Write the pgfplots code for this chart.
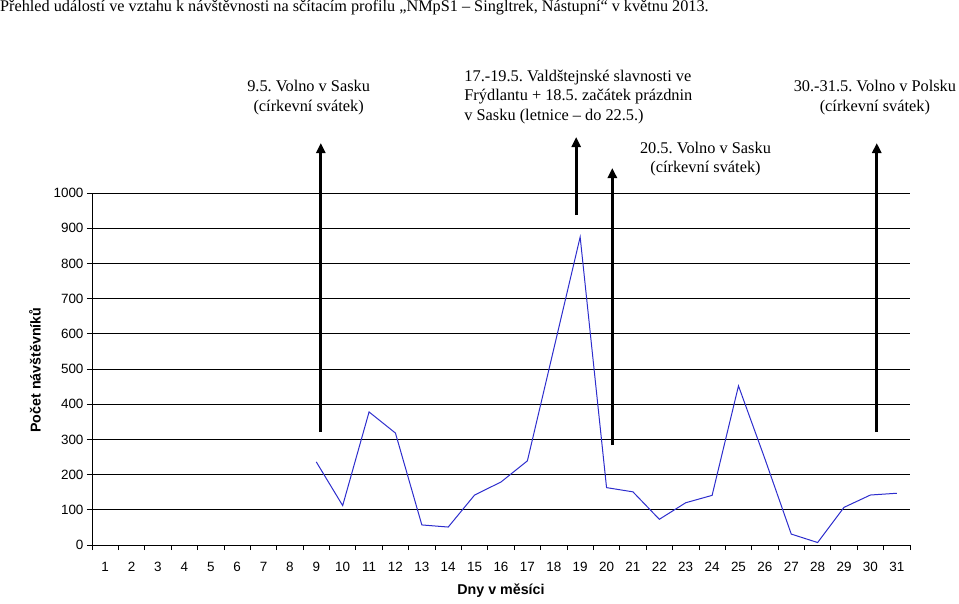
\documentclass[border=0pt]{standalone}
\usepackage{fontspec}
\setmainfont{Liberation Serif}
\newfontfamily\arial{Liberation Sans}
\usepackage{pgfplots}
\pgfplotsset{compat=1.18}
\usetikzlibrary{arrows.meta}
\definecolor{lineblue}{RGB}{45,45,205}
\frenchspacing
\begin{document}
\begin{tikzpicture}
\useasboundingbox (-92bp,-59bp) rectangle (867bp,545bp);
\begin{axis}[
  scale only axis, width=818bp, height=352bp,
  at={(0,0)}, anchor=south west,
  xmin=0.5, xmax=31.5, ymin=0, ymax=1000,
  clip=false,
  axis x line*=bottom, axis y line*=left,
  axis line style={-, black, line width=0.8bp},
  xtick={1,...,31},
  major x tick style={draw=none},
  minor xtick={0.5,1.5,...,31.5},
  minor x tick style={black, line width=0.8bp},
  ytick={0,100,...,1000},
  major y tick style={black, line width=0.8bp},
  tick align=outside,
  major tick length=5bp, minor tick length=5bp,
  ymajorgrids, grid style={black, line width=0.8bp},
  /pgf/number format/assume math mode=true,
  /pgf/number format/1000 sep={},
  ticklabel style={font=\arial\fontsize{13.5}{15}\selectfont},
  xticklabel style={yshift=-9bp},
  label style={font=\arial\bfseries\fontsize{14.3}{16}\selectfont},
  xlabel={Dny v měsíci},
  ylabel={Počet návštěvníků},
  xlabel style={at={(axis description cs:0.5,-0.131)}, anchor=center},
  ylabel style={at={(axis description cs:-0.0697,0.497)}, anchor=center},
]
\addplot[lineblue, line width=1bp] coordinates {
 (9,236) (10,112) (11,378) (12,318) (13,57) (14,51) (15,142) (16,179)
 (17,239) (18,557) (19,875) (20,163) (21,151) (22,73) (23,120) (24,141)
 (25,452) (26,245) (27,31) (28,7) (29,107) (30,142) (31,147)
};
\addplot[black, line width=2.6bp, -{Triangle[width=9bp,length=10bp]}] coordinates {(9.17,321) (9.17,1142)};
\addplot[black, line width=2.6bp, -{Triangle[width=9bp,length=10bp]}] coordinates {(18.85,937) (18.85,1159)};
\addplot[black, line width=2.6bp, -{Triangle[width=9bp,length=10bp]}] coordinates {(20.22,284) (20.22,1071)};
\addplot[black, line width=2.6bp, -{Triangle[width=9bp,length=10bp]}] coordinates {(30.24,321) (30.24,1142)};
\node[align=center, font=\fontsize{16.4}{19.5}\selectfont] at (axis cs:8.71,1271) {9.5. Volno v Sasku\\(církevní svátek)};
\node[align=left, anchor=west, font=\fontsize{16.4}{19.5}\selectfont] at (axis cs:14.48,1273) {17.-19.5. Valdštejnské slavnosti ve\\Frýdlantu + 18.5. začátek prázdnin\\v Sasku (letnice – do 22.5.)};
\node[align=center, font=\fontsize{16.4}{19.5}\selectfont] at (axis cs:23.75,1097) {20.5. Volno v Sasku\\(církevní svátek)};
\node[align=center, font=\fontsize{16.4}{19.5}\selectfont] at (axis cs:30.17,1271) {30.-31.5. Volno v Polsku\\(církevní svátek)};
\node[anchor=west, inner sep=0pt, font=\fontsize{16.3}{18}\selectfont] at (rel axis cs:-0.1125,1.5256) {Přehled událostí ve vztahu k návštěvnosti na sčítacím profilu „NMpS1 – Singltrek, Nástupní“ v květnu 2013.};
\end{axis}
\end{tikzpicture}
\end{document}
